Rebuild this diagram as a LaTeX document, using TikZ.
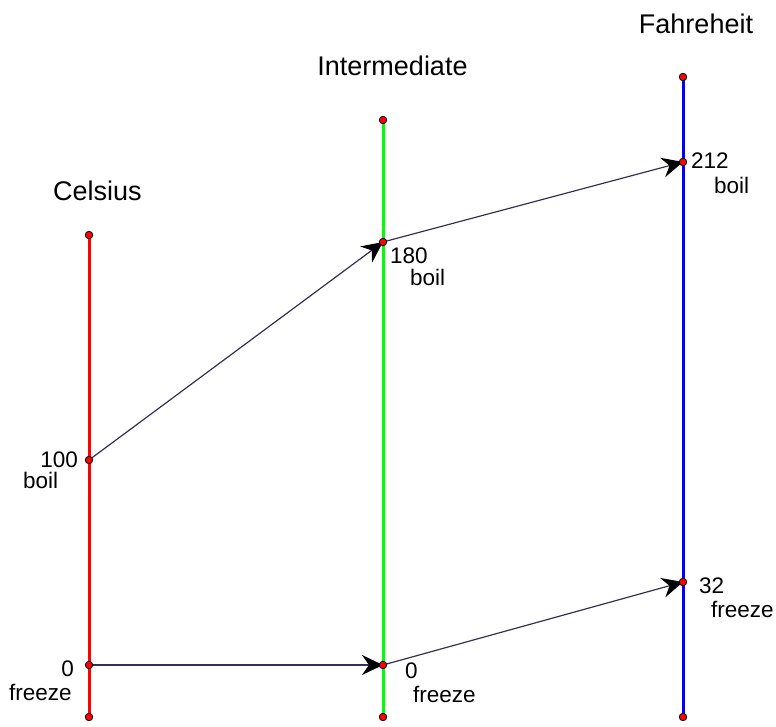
\documentclass[tikz,border=0pt]{standalone}
\usepackage{fontspec}
\setmainfont{Liberation Sans}
\usetikzlibrary{arrows.meta,backgrounds}
\definecolor{connc}{RGB}{50,50,80}
\begin{document}
\begin{tikzpicture}[x=1pt,y=-1pt,
  dot/.style={circle,fill=red,draw=black,line width=0.8pt,inner sep=0pt,minimum size=7.5pt},
  scale line/.style={line width=3pt},
  conn/.style={draw=connc,line width=1.2pt,-{Stealth[length=21pt,width=20pt,inset=7pt,black]}},
  title/.style={font=\fontsize{27}{30}\selectfont,inner sep=0pt},
  lbl/.style={font=\fontsize{22.5}{26}\selectfont,inner sep=0pt}]
\useasboundingbox (0,0) rectangle (776,726);
% dots
\node[dot] (ct) at (89,235) {};
\node[dot] (cb) at (89,717) {};
\node[dot] (c100) at (89,460) {};
\node[dot] (c0) at (89,665) {};
\node[dot] (it) at (383,120) {};
\node[dot] (ib) at (383,717) {};
\node[dot] (i180) at (383,242) {};
\node[dot] (i0) at (383,665) {};
\node[dot] (ft) at (683,77) {};
\node[dot] (fb) at (683,717) {};
\node[dot] (f212) at (683,162) {};
\node[dot] (f32) at (683,582) {};
% titles
\node[title,anchor=base] (tc) at (97.5,200) {Celsius};
\node[title,anchor=base] (ti) at (392.5,75) {Intermediate};
\node[title,anchor=base] (tf) at (696,33) {Fahreheit};
% labels
\node[lbl,anchor=base east] (l100) at (78,467) {100};
\node[lbl,anchor=base west] (lcb) at (23,488) {boil};
\node[lbl,anchor=base east] (lc0) at (74,676) {0};
\node[lbl,anchor=base west] (lcf) at (9,700) {freeze};
\node[lbl,anchor=base west] (l180) at (390,263) {180};
\node[lbl,anchor=base west] (lib) at (410,285) {boil};
\node[lbl,anchor=base west] (li0) at (405,678) {0};
\node[lbl,anchor=base west] (lif) at (413,702) {freeze};
\node[lbl,anchor=base west] (l212) at (691,168) {212};
\node[lbl,anchor=base west] (lfb) at (714,193) {boil};
\node[lbl,anchor=base west] (l32) at (699,593) {32};
\node[lbl,anchor=base west] (lff) at (711,617) {freeze};
\begin{pgfonlayer}{background}
\draw[scale line,red] (ct.center) -- (cb.center);
\draw[scale line,green] (it.center) -- (ib.center);
\draw[scale line,blue] (ft.center) -- (fb.center);
\draw[conn] (c100.center) -- (i180.center);
\draw[conn] (c0.center) -- (i0.center);
\draw[conn] (i180.center) -- (f212.center);
\draw[conn] (i0.center) -- (f32.center);
\end{pgfonlayer}
\end{tikzpicture}
\end{document}
